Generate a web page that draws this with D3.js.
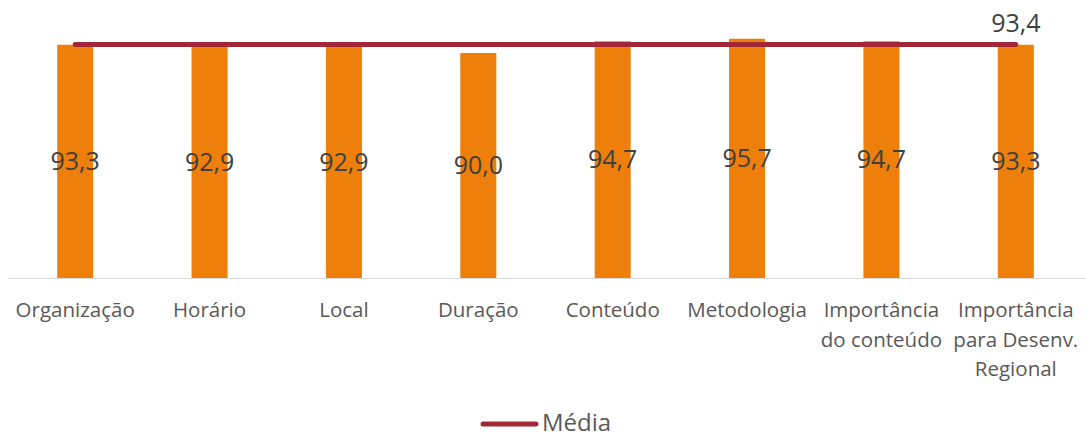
<!DOCTYPE html>
<html>
<head>
<meta charset="utf-8">
<script src="https://cdn.jsdelivr.net/npm/d3@7"></script>
<style>
  body { margin: 0; background: #fff; }
  svg { display: block; font-family: "Open Sans", sans-serif; }
</style>
</head>
<body>
<svg id="chart" width="1086" height="437"></svg>
<script>
'use strict';

// Chart data
const categories = ['Organização', 'Horário', 'Local', 'Duração', 'Conteúdo',
  'Metodologia', 'Importância\ndo conteúdo', 'Importância\npara Desenv.\nRegional'];
const values = [93.3, 92.9, 92.9, 90.0, 94.7, 95.7, 94.7, 93.3];
const media = [93.4, 93.4, 93.4, 93.4, 93.4, 93.4, 93.4, 93.4];
const legendLabel = 'Média';

const fmt = v => d3.format('.1f')(v).replace('.', ',');

const svg = d3.select('#chart');
const x = d3.scaleBand().domain(categories).range([8, 1083]);
const y = d3.scaleLinear().domain([0, 100]).range([278, 28]);
const barW = x.bandwidth() * 0.268;
const cx = c => x(c) + x.bandwidth() / 2;

// bars
svg.append('g').selectAll('rect')
  .data(values)
  .join('rect')
    .attr('x', (d, i) => cx(categories[i]) - barW / 2)
    .attr('y', d => y(d))
    .attr('width', barW)
    .attr('height', d => y(0) - y(d))
    .attr('fill', '#ef7f0b');

// axis line
svg.append('line')
  .attr('x1', 8).attr('x2', 1086)
  .attr('y1', y(0) + 0.5).attr('y2', y(0) + 0.5)
  .attr('stroke', '#d9d9d9').attr('stroke-width', 1);

// average line
const line = d3.line()
  .x((d, i) => cx(categories[i]))
  .y(d => y(d));
svg.append('path')
  .datum(media)
  .attr('d', line)
  .attr('fill', 'none')
  .attr('stroke', '#a12937')
  .attr('stroke-width', 5)
  .attr('stroke-linecap', 'round');

// value labels
svg.append('g').selectAll('text')
  .data(values)
  .join('text')
    .attr('x', (d, i) => cx(categories[i]))
    .attr('y', d => (y(d) + y(0)) / 2)
    .attr('dy', '0.35em')
    .attr('text-anchor', 'middle')
    .attr('font-size', 25)
    .attr('fill', '#404040')
    .text(fmt);

// average label (last point)
const last = media.length - 1;
svg.append('text')
  .attr('x', cx(categories[last]))
  .attr('y', y(media[last]) - 13)
  .attr('text-anchor', 'middle')
  .attr('font-size', 25)
  .attr('fill', '#404040')
  .text(fmt(media[last]));

// category labels
const cat = svg.append('g').selectAll('text')
  .data(categories)
  .join('text')
    .attr('x', d => cx(d))
    .attr('y', 317)
    .attr('text-anchor', 'middle')
    .attr('font-size', 20.5)
    .attr('fill', '#595959');
cat.selectAll('tspan')
  .data(d => d.split('\n'))
  .join('tspan')
    .attr('x', function() { return this.parentNode.getAttribute('x'); })
    .attr('dy', (d, i) => i ? 29.5 : 0)
    .text(d => d);

// legend
const lg = svg.append('g');
lg.append('line')
  .attr('x1', 483).attr('x2', 536)
  .attr('y1', 424).attr('y2', 424)
  .attr('stroke', '#a12937').attr('stroke-width', 5)
  .attr('stroke-linecap', 'round');
lg.append('text')
  .attr('x', 542).attr('y', 431)
  .attr('font-size', 24)
  .attr('fill', '#595959')
  .text(legendLabel);
</script>
</body>
</html>
